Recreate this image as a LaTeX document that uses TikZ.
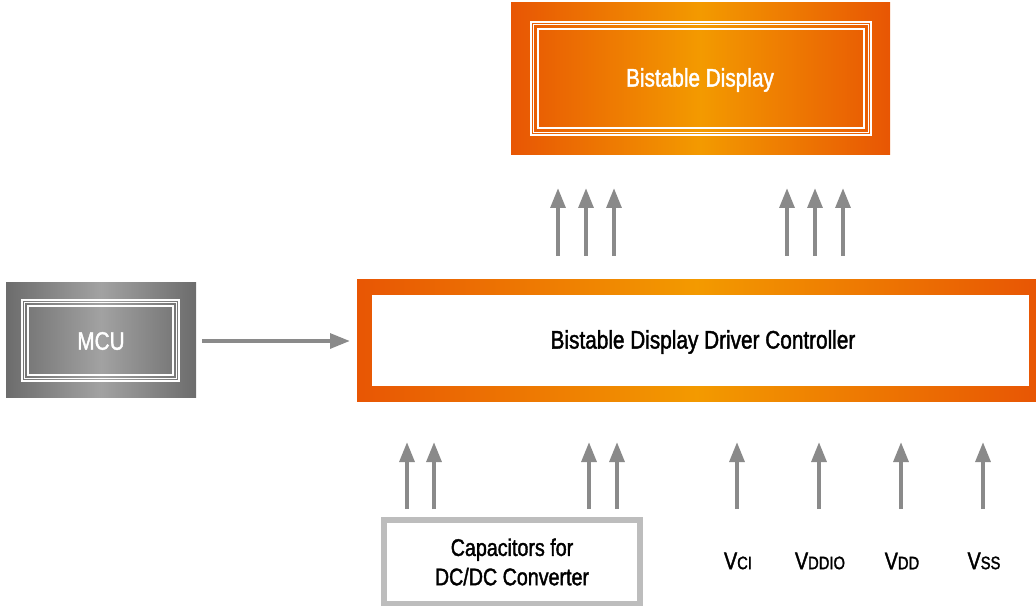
\documentclass[tikz,border=0pt]{standalone}
\usepackage{fontspec}
\setmainfont{Liberation Sans}[FakeStretch=0.82,FakeBold=1.6]
\usetikzlibrary{arrows.meta}
\definecolor{oedge}{HTML}{E85604}
\definecolor{omid}{HTML}{F39A00}
\definecolor{gedge}{HTML}{6C6C6C}
\definecolor{gmid}{HTML}{A2A2A2}
\definecolor{arr}{HTML}{8A8A8A}
\definecolor{capb}{HTML}{BDBDBD}
\tikzset{
  conn/.style={draw=arr, line width=3pt, -{Triangle[width=11pt,length=15pt]}},
  lbl/.style={inner sep=0pt, font=\fontsize{19}{22}\selectfont},
  wlbl/.style={lbl, text=white},
  tline/.style={draw=white, line width=0.9pt},
  tthin/.style={draw=white, line width=0.5pt},
}
\newcommand{\vlab}[2]{{\fontsize{18}{20}\selectfont #1}{\fontsize{13.5}{15}\selectfont #2}}
\begin{document}
\begin{tikzpicture}[x=0.75pt,y=-0.75pt]
\useasboundingbox (0,0) rectangle (1036,606);
% Bistable Display
\shade[left color=oedge,right color=oedge,middle color=omid] (511,3) rectangle (890,155);
\draw[tline] (531,22) rectangle (871,135);
\draw[tthin] (533.5,24.5) rectangle (868.5,132.5);
\draw[tline] (538,29) rectangle (864,128);
\node[wlbl] (disp) at (700,80) {Bistable Display};
% MCU
\shade[left color=gedge,right color=gedge,middle color=gmid] (6,283) rectangle (196,397);
\draw[tline] (22,300) rectangle (179,381);
\draw[tthin] (24.5,302.5) rectangle (176.5,378.5);
\draw[tline] (28,306) rectangle (173,375);
\node[wlbl] (mcu) at (101,341) {MCU};
% Controller
\shade[left color=oedge,right color=oedge,middle color=omid] (357,280) rectangle (1036,401);
\fill[white] (372,295) rectangle (1029,386);
\node[lbl] (ctrl) at (703,342) {Bistable Display Driver Controller};
% Capacitors
\draw[draw=capb, line width=4.5pt, fill=white] (383.5,519.5) rectangle (640,604);
\node[lbl, align=center, font=\fontsize{18}{21}\selectfont] (cap) at (512,562) {Capacitors for\\[1pt]DC/DC Converter};
% supply labels
\node[inner sep=0pt] (vci) at (738,561) {\vlab{V}{CI}};
\node[inner sep=0pt] (vddio) at (820,561) {\vlab{V}{DDIO}};
\node[inner sep=0pt] (vdd) at (902,561) {\vlab{V}{DD}};
\node[inner sep=0pt] (vss) at (984,561) {\vlab{V}{SS}};
% coordinates
\coordinate (mcuE) at (202,341);
\coordinate (ctrlW) at (350,341);
\foreach \n/\x in {a/558,b/586,c/614,d/787,e/815,f/843}{
  \coordinate (t\n s) at (\x,256);
  \coordinate (t\n e) at (\x,188);
}
\foreach \n/\x in {a/407,b/434,c/589,d/617,e/737,f/819,g/901,h/983}{
  \coordinate (b\n s) at (\x,509);
  \coordinate (b\n e) at (\x,442);
}
\draw[conn] (mcuE) -- (ctrlW);
\foreach \n in {a,b,c,d,e,f}{\draw[conn] (t\n s) -- (t\n e);}
\foreach \n in {a,b,c,d,e,f,g,h}{\draw[conn] (b\n s) -- (b\n e);}
\end{tikzpicture}
\end{document}
